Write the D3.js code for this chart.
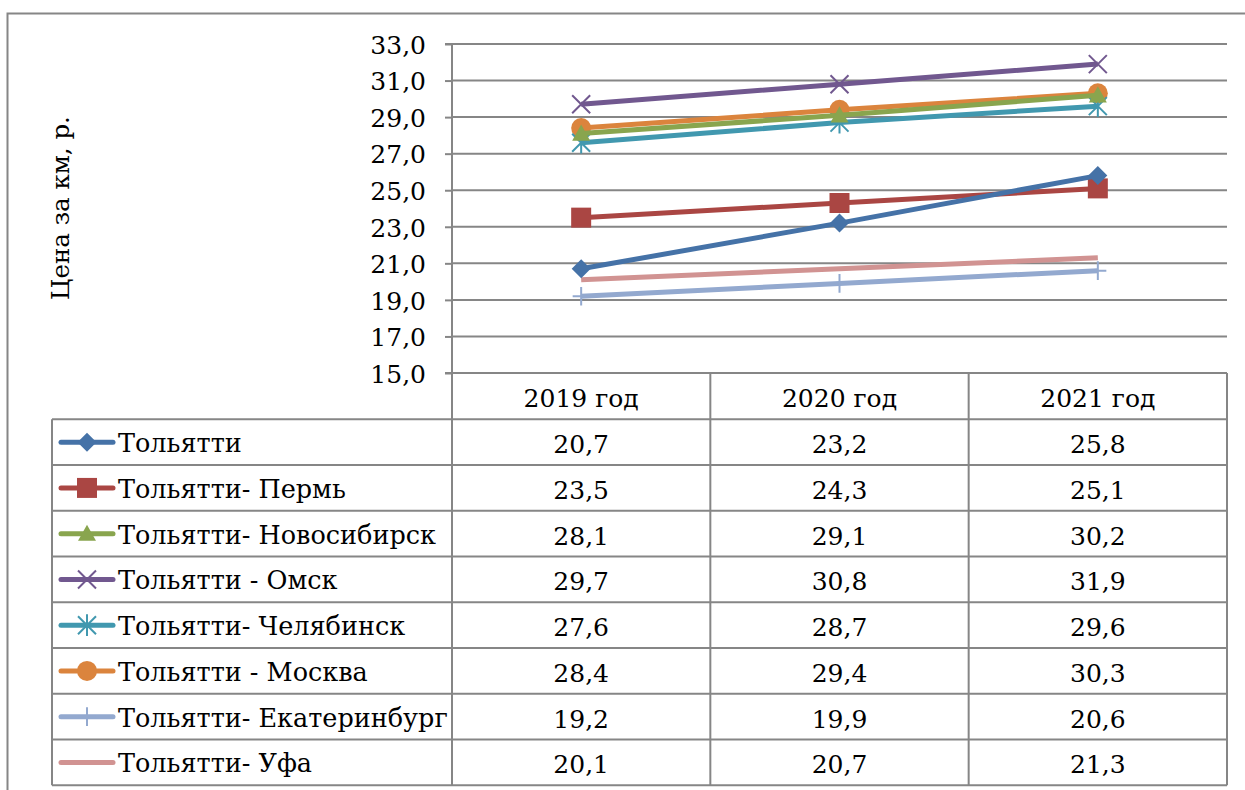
<!DOCTYPE html>
<html>
<head>
<meta charset="utf-8">
<script src="https://cdn.jsdelivr.net/npm/d3@7"></script>
<style>
  html, body { margin: 0; padding: 0; background: #fff; }
  svg { display: block; }
</style>
</head>
<body>
<svg id="chart" width="1245" height="790"></svg>
<script>
// Years shown on the category axis and in the table header
const years = ["2019 год", "2020 год", "2021 год"];

// Route names, in table order
const routes = [
  "Тольятти",
  "Тольятти- Пермь",
  "Тольятти- Новосибирск",
  "Тольятти - Омск",
  "Тольятти- Челябинск",
  "Тольятти - Москва",
  "Тольятти- Екатеринбург",
  "Тольятти- Уфа"
];

// Price per km, rubles
const tolyatti      = [20.7, 23.2, 25.8];
const perm          = [23.5, 24.3, 25.1];
const novosibirsk   = [28.1, 29.1, 30.2];
const omsk          = [29.7, 30.8, 31.9];
const chelyabinsk   = [27.6, 28.7, 29.6];
const moskva        = [28.4, 29.4, 30.3];
const ekaterinburg  = [19.2, 19.9, 20.6];
const ufa           = [20.1, 20.7, 21.3];

const yTicks = [15, 17, 19, 21, 23, 25, 27, 29, 31, 33];
const yTitle = "Цена за км, р.";

const seriesValues = [tolyatti, perm, novosibirsk, omsk, chelyabinsk, moskva, ekaterinburg, ufa];
const colors = ["#4572A7", "#AA4643", "#89A54E", "#71588F", "#4198AF", "#DB843D", "#93A9CF", "#D19392"];
const markers = ["diamond", "square", "triangle", "x", "star", "circle", "plus", "none"];

const series = routes.map((name, i) => ({
  name, values: seriesValues[i], color: colors[i], marker: markers[i]
}));

const FONT = "DejaVu Serif";

const svg = d3.select("#chart");
const W = 1245, H = 790;
svg.append("rect").attr("width", W).attr("height", H).attr("fill", "#fff");

const gridColor = "#868686";
const plotLeft = 452, plotRight = 1227;
const plotTop = 44, plotBottom = 373;
const tableLeft = 52;
const rowH = 45.75;
const headerBottom = 419.3;
const fontSize = 25;
const legendFontSize = 25.5;

const y = d3.scaleLinear().domain([15, 33]).range([plotBottom, plotTop]);
const x = d3.scaleBand().domain(years).range([plotLeft, plotRight]).padding(0);
const cx = d => x(d) + x.bandwidth() / 2;

const ruLocale = d3.formatLocale({ decimal: ",", thousands: " ", grouping: [3], currency: ["", " р."] });
const fmt = ruLocale.format(".1f");

// Outer chart frame
svg.append("path")
  .attr("d", `M7.5,${H} L7.5,13.5 L${W},13.5`)
  .attr("fill", "none").attr("stroke", gridColor).attr("stroke-width", 2);

// Horizontal gridlines
svg.append("g").selectAll("line").data(yTicks).join("line")
  .attr("x1", plotLeft).attr("x2", plotRight)
  .attr("y1", d => y(d)).attr("y2", d => y(d))
  .attr("stroke", gridColor).attr("stroke-width", 2);

// Value axis with tick marks and labels
const yAxis = d3.axisLeft(y).tickValues(yTicks).tickFormat(fmt).tickSize(7).tickPadding(19);
const gy = svg.append("g").attr("transform", `translate(${plotLeft},0)`).call(yAxis)
  .attr("font-family", FONT).attr("font-size", fontSize);
gy.select(".domain").attr("stroke", gridColor).attr("stroke-width", 2).attr("d", `M-7,${plotTop}H0V${plotBottom}H-7`);
gy.selectAll(".tick line").attr("stroke", gridColor).attr("stroke-width", 2);
gy.selectAll(".tick text").attr("fill", "#000").attr("dy", "0.37em");

// Axis title
svg.append("text")
  .attr("transform", `translate(69,208) rotate(-90)`)
  .attr("text-anchor", "middle")
  .attr("font-family", FONT)
  .attr("font-size", 24.5)
  .text(yTitle);

// Data table grid
const tableG = svg.append("g");
const rowTop = i => headerBottom + i * rowH;
const tableBottom = rowTop(routes.length);
const colEdges = [plotLeft, ...years.map(d => x(d) + x.bandwidth())];

colEdges.forEach(edge => {
  tableG.append("line")
    .attr("x1", edge).attr("x2", edge)
    .attr("y1", plotBottom).attr("y2", tableBottom)
    .attr("stroke", gridColor).attr("stroke-width", 2);
});
tableG.append("line")
  .attr("x1", tableLeft).attr("x2", tableLeft)
  .attr("y1", headerBottom).attr("y2", tableBottom)
  .attr("stroke", gridColor).attr("stroke-width", 2);
d3.range(routes.length + 1).forEach(i => {
  tableG.append("line")
    .attr("x1", tableLeft).attr("x2", plotRight)
    .attr("y1", rowTop(i)).attr("y2", rowTop(i))
    .attr("stroke", gridColor).attr("stroke-width", 2);
});

// header labels
tableG.selectAll("text.year").data(years).join("text")
  .attr("class", "year")
  .attr("x", d => cx(d))
  .attr("y", (plotBottom + headerBottom) / 2 + 11)
  .attr("text-anchor", "middle")
  .attr("font-family", FONT)
  .attr("font-size", fontSize)
  .text(d => d);

// Marker path builder
function markerPath(type, r) {
  const p = d3.path();
  switch (type) {
    case "diamond":
      p.moveTo(0, -r); p.lineTo(r, 0); p.lineTo(0, r); p.lineTo(-r, 0); p.closePath(); break;
    case "square":
      p.rect(-r, -r, 2 * r, 2 * r); break;
    case "triangle":
      p.moveTo(0, -r); p.lineTo(r, r * 0.8); p.lineTo(-r, r * 0.8); p.closePath(); break;
    case "circle":
      p.arc(0, 0, r, 0, 2 * Math.PI); break;
    case "x":
      p.moveTo(-r, -r); p.lineTo(r, r); p.moveTo(r, -r); p.lineTo(-r, r); break;
    case "star":
      p.moveTo(-r, -r); p.lineTo(r, r); p.moveTo(r, -r); p.lineTo(-r, r);
      p.moveTo(0, -r * 1.2); p.lineTo(0, r * 1.2); break;
    case "plus":
      p.moveTo(0, -r * 1.1); p.lineTo(0, r * 1.1); p.moveTo(-r, 0); p.lineTo(r, 0); break;
  }
  return p.toString();
}
const filled = t => ["diamond", "square", "triangle", "circle"].includes(t);
const markerR = { diamond: 9.5, square: 10, triangle: 9, circle: 10, x: 9, star: 9, plus: 8.5 };

function drawMarker(g, s, px, py) {
  if (s.marker === "none") return;
  const path = g.append("path")
    .attr("transform", `translate(${px},${py})`)
    .attr("d", markerPath(s.marker, markerR[s.marker]));
  if (filled(s.marker)) path.attr("fill", s.color).attr("stroke", "none");
  else path.attr("fill", "none").attr("stroke", s.color).attr("stroke-width", 2);
}

// Legend keys and values in the table
series.forEach((s, i) => {
  const midY = rowTop(i) + rowH / 2;
  const g = svg.append("g");
  g.append("line")
    .attr("x1", 61).attr("x2", 113)
    .attr("y1", midY).attr("y2", midY)
    .attr("stroke", s.color).attr("stroke-width", 5).attr("stroke-linecap", "round");
  drawMarker(g, s, 87, midY);
  g.append("text")
    .attr("x", 118).attr("y", midY + 10)
    .attr("font-family", FONT)
    .attr("font-size", legendFontSize)
    .text(s.name);
  g.selectAll("text.val").data(s.values).join("text")
    .attr("class", "val")
    .attr("x", (d, j) => cx(years[j]))
    .attr("y", midY + 11)
    .attr("text-anchor", "middle")
    .attr("font-family", FONT)
    .attr("font-size", fontSize)
    .text(d => fmt(d));
});

// Lines, drawn bottom-of-table first so the first routes sit on top
const line = d3.line().x((d, j) => cx(years[j])).y(d => y(d));
const linesG = svg.append("g");
series.slice().reverse().forEach(s => {
  const g = linesG.append("g");
  g.append("path")
    .attr("d", line(s.values))
    .attr("fill", "none")
    .attr("stroke", s.color)
    .attr("stroke-width", 5)
    .attr("stroke-linecap", "butt");
  s.values.forEach((v, j) => drawMarker(g, s, cx(years[j]), y(v)));
});
</script>
</body>
</html>
